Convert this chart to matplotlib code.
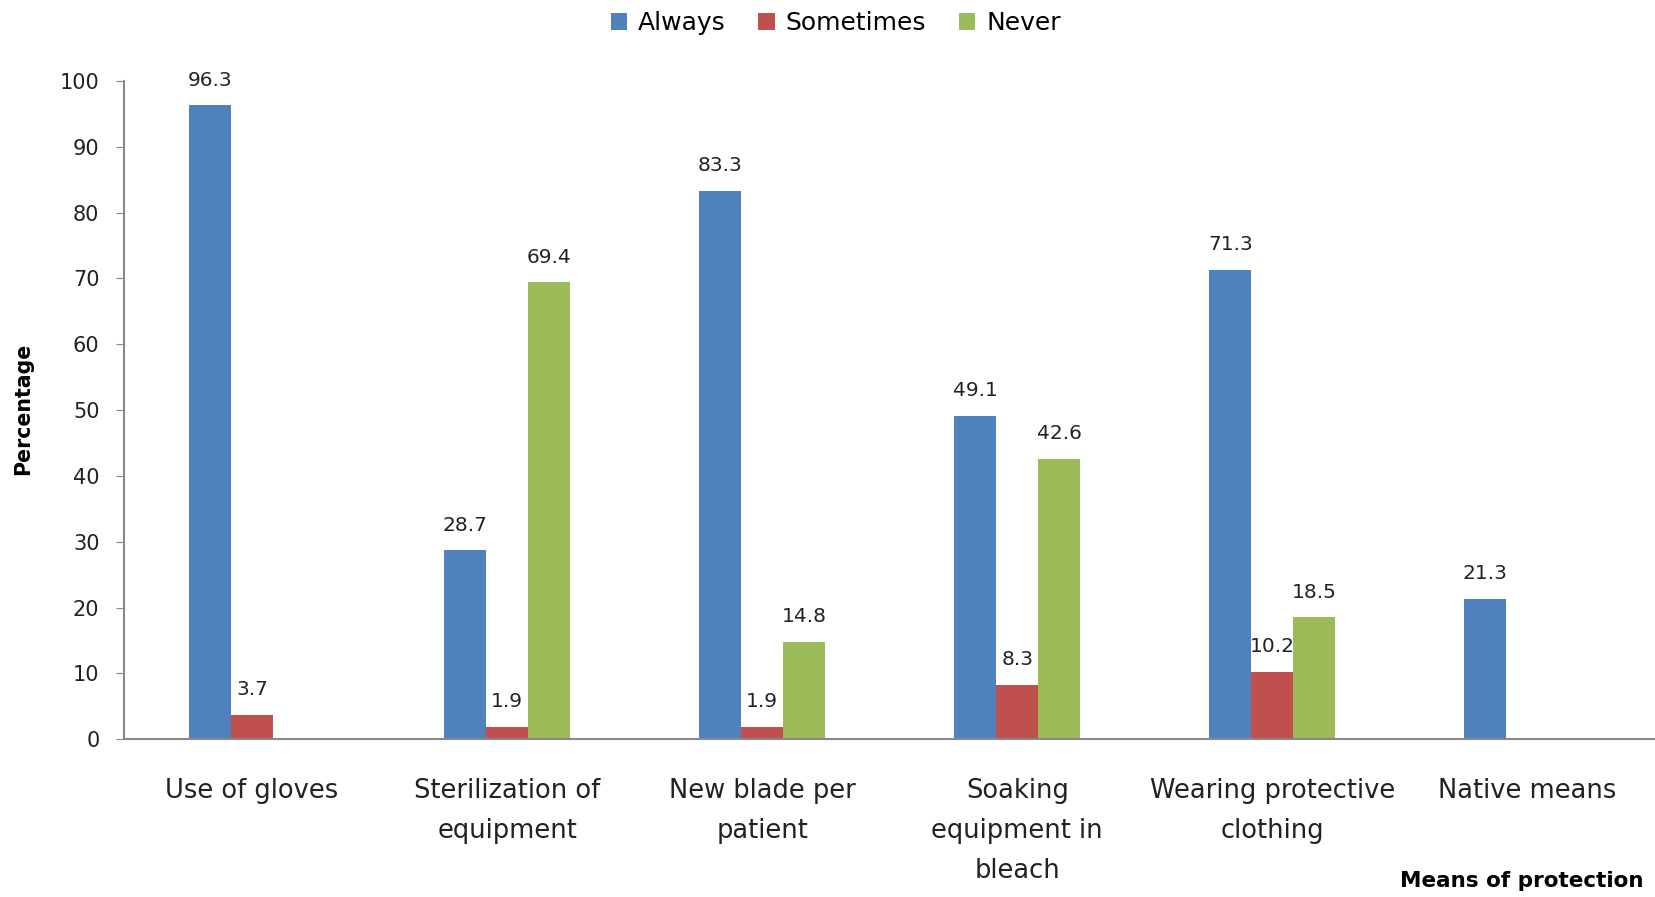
import numpy as np
import matplotlib.pyplot as plt

categories = ["Use of gloves", "Sterilization of\nequipment", "New blade per\npatient",
              "Soaking\nequipment in\nbleach", "Wearing protective\nclothing", "Native means"]
always = [96.3, 28.7, 83.3, 49.1, 71.3, 21.3]
sometimes = [3.7, 1.9, 1.9, 8.3, 10.2, 0]
never = [0, 69.4, 14.8, 42.6, 18.5, 0]

series = [("Always", always, "#4F81BD"),
          ("Sometimes", sometimes, "#C0504D"),
          ("Never", never, "#9BBB59")]


def main():
    plt.rcParams['font.family'] = ['DejaVu Sans']
    fig = plt.figure(figsize=(16.55, 8.97), dpi=100)
    ax = fig.add_axes([0.0752, 0.176, 0.9248, 0.7337])

    x = np.arange(len(categories))
    width = 0.165

    # one set of bars per series, zero values drawn but not labelled
    for i, (name, vals, color) in enumerate(series):
        pos = x + (i - 1) * width
        ax.bar(pos, vals, width, color=color, label=name)
        for px, v in zip(pos, vals):
            if v > 0:
                ax.annotate(f"{v}", (px, v), xytext=(0, 18), textcoords="offset points",
                            ha="center", va="center", fontsize=14.5, color="#222222")

    ax.set_xlim(-0.5, len(categories) - 0.5)
    ax.set_ylim(0, 100)
    ax.set_yticks(range(0, 101, 10))
    ax.set_xticks(x)
    ax.set_xticklabels(categories, fontsize=18.5, color="#222222", linespacing=1.7)
    ax.tick_params(axis="x", length=0, pad=28)
    ax.tick_params(axis="y", length=6, color="#888888", labelsize=15, labelcolor="#222222", pad=12)

    for side in ["top", "right"]:
        ax.spines[side].set_visible(False)
    for side in ["left", "bottom"]:
        ax.spines[side].set_color("#888888")
        ax.spines[side].set_linewidth(1.5)

    fig.text(0.014, 0.544, "Percentage", rotation=90, fontsize=14.8, fontweight="bold",
             ha="center", va="center")
    fig.text(0.993, 0.018, "Means of protection", fontsize=15.5, fontweight="bold",
             ha="right", va="center")

    fig.legend(loc="center", bbox_to_anchor=(0.505, 0.974), ncol=3, frameon=False,
               fontsize=18, handlelength=0.65, handleheight=0.65, handletextpad=0.45,
               columnspacing=1.3)

    fig.savefig("out.png", dpi=100)


if __name__ == "__main__":
    main()
